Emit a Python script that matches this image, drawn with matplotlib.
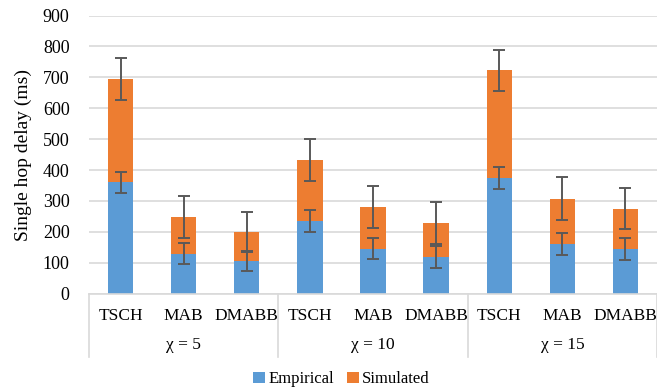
import matplotlib.pyplot as plt
import matplotlib.transforms as mtransforms
import numpy as np

plt.rcParams['font.family'] = ['Liberation Serif', 'DejaVu Serif']

protocols = ['TSCH', 'MAB', 'DMABB'] * 3
groups = ['\u03c7 = 5', '\u03c7 = 10', '\u03c7 = 15']
empirical = [360, 130, 105, 235, 145, 118, 375, 160, 145]
simulated = [335, 118, 95, 198, 135, 110, 348, 148, 130]
emp_err = [35, 33, 32, 35, 34, 36, 35, 35, 35]
sim_err = [67, 67, 65, 67, 67, 68, 67, 68, 67]

blue = '#5B9BD5'
orange = '#ED7D31'
errc = '#595959'
grid = '#D9D9D9'

fig = plt.figure(figsize=(6.57, 3.9), dpi=100)
ax = fig.add_axes([0.1355, 0.247, 0.8645, 0.713])

x = np.arange(len(protocols))
emp = np.array(empirical)
sim = np.array(simulated)
ax.bar(x, emp, width=0.4, color=blue, label='Empirical', zorder=2)
ax.bar(x, sim, width=0.4, bottom=emp, color=orange, label='Simulated', zorder=2)
ax.errorbar(x, emp, yerr=emp_err, fmt='none', ecolor=errc, elinewidth=1.4,
            capsize=4, capthick=1.4, zorder=3)
ax.errorbar(x, emp + sim, yerr=sim_err, fmt='none', ecolor=errc, elinewidth=1.4,
            capsize=4, capthick=1.4, zorder=3)

ax.set_ylim(0, 900)
ax.set_yticks(range(0, 901, 100))
ax.set_xlim(-0.5, 8.5)
ax.yaxis.grid(True, color=grid, linewidth=1.2, zorder=0)
ax.set_axisbelow(True)
for s in ['top', 'right', 'left']:
    ax.spines[s].set_visible(False)
ax.spines['bottom'].set_color(grid)
ax.spines['bottom'].set_linewidth(1.2)
ax.tick_params(axis='y', length=0, labelsize=13, pad=14)
ax.tick_params(axis='x', length=0, labelsize=12.5, pad=10)
ax.set_xticks(x)
ax.set_xticklabels(protocols)
ax.set_ylabel('Single hop delay (ms)', fontsize=14, labelpad=8)

trans = mtransforms.blended_transform_factory(ax.transData, ax.transAxes)
for b in [-0.5, 2.5, 5.5, 8.5]:
    ax.plot([b, b], [0, -0.228], color=grid, linewidth=1.2, transform=trans,
            clip_on=False)
for i, g in enumerate(groups):
    ax.text(3 * i + 1, -0.185, g, transform=trans, ha='center', va='center',
            fontsize=12.5)

fig.legend(loc='center', ncol=2, frameon=False, fontsize=12,
           bbox_to_anchor=(0.52, 0.027), handlelength=0.7, handleheight=0.7,
           handletextpad=0.2, columnspacing=0.8, borderaxespad=0)

plt.savefig('out.png', dpi=100)
